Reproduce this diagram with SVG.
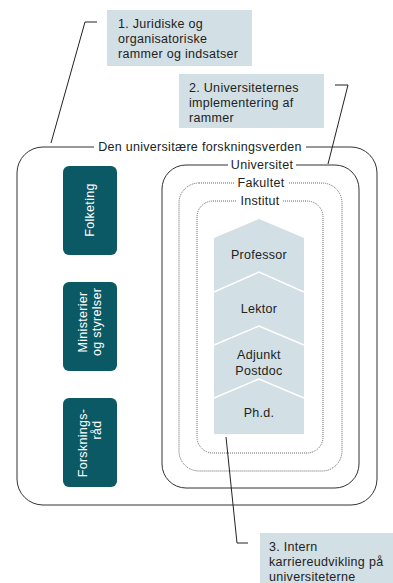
<svg xmlns="http://www.w3.org/2000/svg" width="393" height="583" viewBox="0 0 393 583">
<style>
text{font-family:"Liberation Sans",Arial,sans-serif;font-size:12.5px;fill:#222;letter-spacing:0.3px}
.lbl{text-anchor:middle;dominant-baseline:central}
.ann{fill:#d2dfe4}
.solid{fill:none;stroke:#333;stroke-width:1}
.dot{fill:none;stroke:#666;stroke-width:1;stroke-dasharray:1 1}
.teal{fill:#0b5965}
.wt{fill:#fff;font-size:12.5px}
.lead{fill:none;stroke:#222;stroke-width:1}
.chev{fill:none;stroke:#fff;stroke-width:1.5}
</style>
<rect width="393" height="583" fill="#fff"/>

<g id="outer">
<rect class="solid" x="17" y="147" width="360" height="358" rx="26"/>
<rect x="94" y="139" width="212" height="16" fill="#fff"/>
<text class="lbl" x="200" y="147">Den universitære forskningsverden</text>
</g>

<g id="folketing">
<rect class="teal" x="63" y="166" width="54" height="89" rx="6"/>
<text class="lbl wt" transform="translate(90,210) rotate(-90)">Folketing</text>
</g>
<g id="ministerier">
<rect class="teal" x="63" y="282" width="54" height="89" rx="6"/>
<text class="lbl wt" transform="translate(83,322) rotate(-90)">Ministerier</text>
<text class="lbl wt" transform="translate(97,322) rotate(-90)">og styrelser</text>
</g>
<g id="forskningsraad">
<rect class="teal" x="63" y="398" width="54" height="89" rx="6"/>
<text class="lbl wt" transform="translate(83,443) rotate(-90)">Forsknings-</text>
<text class="lbl wt" transform="translate(97,430) rotate(-90)">råd</text>
</g>

<g id="universitet">
<rect class="solid" x="162" y="165" width="197" height="323" rx="24"/>
<rect x="228" y="157" width="68" height="16" fill="#fff"/>
<text class="lbl" x="262" y="165">Universitet</text>
</g>
<g id="fakultet">
<rect class="dot" x="179" y="183" width="163" height="288" rx="20"/>
<rect x="234" y="175" width="54" height="16" fill="#fff"/>
<text class="lbl" x="261" y="183">Fakultet</text>
</g>
<g id="institut">
<rect class="dot" x="197" y="201" width="126" height="252" rx="16"/>
<rect x="237" y="193" width="46" height="16" fill="#fff"/>
<text class="lbl" x="260" y="201">Institut</text>
</g>

<g id="karriere">
<polygon points="214,238 259,219 304,238 304,434 214,434" fill="#d2dfe4"/>
<polyline class="chev" points="214,292 259,272 304,292"/>
<polyline class="chev" points="214,345 259,326 304,345"/>
<polyline class="chev" points="214,398 259,379 304,398"/>
<text class="lbl" x="259" y="255">Professor</text>
<text class="lbl" x="259" y="309">Lektor</text>
<text class="lbl" x="259" y="355">Adjunkt</text>
<text class="lbl" x="259" y="371">Postdoc</text>
<text class="lbl" x="259" y="413">Ph.d.</text>
</g>

<g id="note1">
<rect class="ann" x="107" y="10" width="145" height="56"/>
<text x="118" y="28">1. Juridiske og</text>
<text x="118" y="43">organisatoriske</text>
<text x="118" y="58">rammer og indsatser</text>
</g>
<g id="note2">
<rect class="ann" x="179" y="74" width="145" height="54"/>
<text x="189" y="92">2. Universiteternes</text>
<text x="189" y="107">implementering af</text>
<text x="189" y="122">rammer</text>
</g>
<g id="note3">
<rect class="ann" x="260" y="533" width="133" height="50"/>
<text x="269" y="551">3. Intern</text>
<text x="269" y="566">karriereudvikling på</text>
<text x="269" y="581">universiteterne</text>
</g>

<g id="connectors">
<polyline class="lead" points="97,22 85,22 51,143"/>
<polyline class="lead" points="335,85 348,85 328,164"/>
<polyline class="lead" points="226,437 237,543 248,543"/>
</g>
</svg>
